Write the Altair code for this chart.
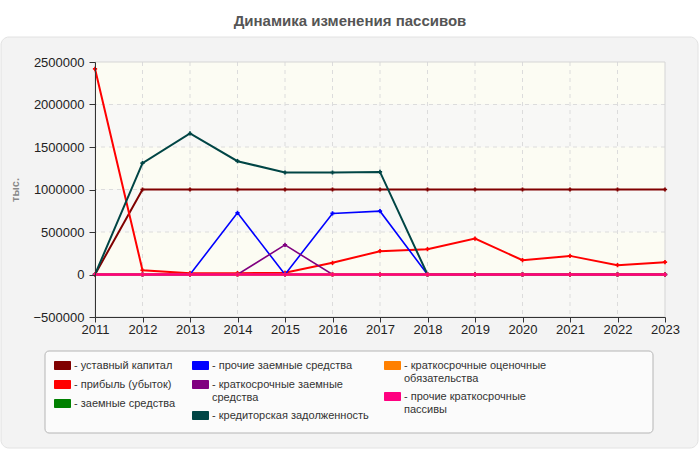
import altair as alt
import pandas as pd

years = [str(y) for y in range(2011, 2024)]

s_ustav = "уставный капитал"
s_profit = "прибыль (убыток)"
s_zaem = "заемные средства"
s_proch_zaem = "прочие заемные средства"
s_kr_zaem = "краткосрочные заемные средства"
s_kredit = "кредиторская задолженность"
s_ocen = "краткосрочные оценочные обязательства"
s_proch_kr = "прочие краткосрочные пассивы"

ustav = [0, 1000000, 1000000, 1000000, 1000000, 1000000, 1000000, 1000000, 1000000, 1000000, 1000000, 1000000, 1000000]
profit = [2420000, 50000, 15000, 15000, 20000, 138000, 274000, 298000, 423000, 168000, 219000, 109000, 145000]
zaem = [0, 0, 0, 0, 0, 0, 0, 0, 0, 0, 0, 0, 0]
proch_zaem = [0, 0, 0, 725000, 0, 718000, 745000, 0, 0, 0, 0, 0, 0]
kr_zaem = [0, 0, 0, 0, 348000, 0, 0, 0, 0, 0, 0, 0, 0]
kredit = [0, 1310000, 1659000, 1333000, 1200000, 1200000, 1207000, 0, 0, 0, 0, 0, 0]
ocen = [0, 0, 0, 0, 0, 0, 0, 0, 0, 0, 0, 0, 0]
proch_kr = [0, 0, 0, 0, 0, 0, 0, 0, 0, 0, 0, 0, 0]

columns = [
    [(s_ustav, ustav, "#800000", 2), (s_profit, profit, "#ff0000", 2), (s_zaem, zaem, "#008000", 2)],
    [(s_proch_zaem, proch_zaem, "#0000ff", 1.6), (s_kr_zaem, kr_zaem, "#800080", 1.6), (s_kredit, kredit, "#004545", 2)],
    [(s_ocen, ocen, "#ff8000", 2), (s_proch_kr, proch_kr, "#ff0080", 2.5)],
]
legend_x = [-41, 97, 289]
legend_y = 295

y_ticks = [-500000, 0, 500000, 1000000, 1500000, 2000000, 2500000]
band_lo = [-500000, 0, 500000, 1000000, 1500000, 2000000]
band_hi = [0, 500000, 1000000, 1500000, 2000000, 2500000]
band_fill = ["#f8f8f6", "#fcfcf3", "#f8f8f6", "#fcfcf3", "#f8f8f6", "#fcfcf3"]

NB = "\u00a0\u00a0\u00a0"
label_expr = (
    "datum.label == '" + s_kr_zaem + "' ? ['- краткосрочные заемные', '" + NB + "средства'] : "
    "datum.label == '" + s_ocen + "' ? ['- краткосрочные оценочные', '" + NB + "обязательства'] : "
    "datum.label == '" + s_proch_kr + "' ? ['- прочие краткосрочные', '" + NB + "пассивы'] : "
    "'- ' + datum.label"
)

y_scale = alt.Scale(domain=[-500000, 2500000], nice=False, zero=False)
x_scale = alt.Scale(type="point", padding=0)
x_axis = alt.Axis(title=None, labelAngle=0, labelAlign="center", labelBaseline="top", grid=False, zindex=1,
                  domainColor="#333333", tickColor="#333333", labelColor="#222222",
                  labelFontSize=13, tickSize=5, labelPadding=1)
y_axis = alt.Axis(values=y_ticks, format="d", title="тыс.", titleColor="#888888", titleFontSize=11,
                  titleFontWeight="bold", titlePadding=13, grid=False, zindex=1,
                  domainColor="#333333", tickColor="#333333",
                  labelColor="#222222", labelFontSize=13, tickSize=6, labelPadding=5)

x_enc = alt.X("year:O", scale=x_scale, axis=x_axis)
y_enc = alt.Y("value:Q", scale=y_scale, axis=y_axis)

dummy = pd.DataFrame({"a": [0]})
panel = alt.Chart(dummy).mark_rect(fill="#f3f3f3", stroke="#e2e2e2", cornerRadius=8).encode(
    x=alt.value(-94), x2=alt.value(603), y=alt.value(-25), y2=alt.value(386)
)
legend_box = alt.Chart(dummy).mark_rect(fill="#fbfbfb", stroke="#b5b5b5", cornerRadius=4).encode(
    x=alt.value(-50), x2=alt.value(558), y=alt.value(289), y2=alt.value(371)
)
bands_df = pd.DataFrame({"value": band_lo, "hi": band_hi, "fill": band_fill})
bands = alt.Chart(bands_df).mark_rect().encode(
    x=alt.value(0), x2=alt.value(570),
    y=y_enc,
    y2="hi:Q",
    fill=alt.Fill("fill:N", scale=None),
)
vgrid = alt.Chart(pd.DataFrame({"year": years[1:-1]})).mark_rule(
    color="#dcdcdc", strokeDash=[4, 4], strokeWidth=1
).encode(x=x_enc)
hgrid = alt.Chart(pd.DataFrame({"value": y_ticks[1:-1]})).mark_rule(
    color="#dcdcdc", strokeDash=[4, 4], strokeWidth=1
).encode(y=y_enc)
frame = alt.Chart(dummy).mark_rect(fill="#ffffff", fillOpacity=0, stroke="#d5d5d5").encode(
    x=alt.value(0), x2=alt.value(570), y=alt.value(0), y2=alt.value(255)
)

groups = []
for ci, col in enumerate(columns):
    rows = []
    for name, vals, _c, w in col:
        for yr, v in zip(years, vals):
            rows.append({"year": yr, "value": v, "series": name, "w": w})
    df = pd.DataFrame(rows)
    dom = [n for n, _v, _c, _w in col]
    rng = [c for _n, _v, c, _w in col]
    legend = alt.Legend(
        title=None, orient="none", legendX=legend_x[ci], legendY=legend_y,
        symbolType="M-1,-0.5H1V0.5H-1Z", symbolSize=256, symbolStrokeWidth=1,
        symbolStrokeColor="#999999",
        labelFontSize=11, labelColor="#333333", labelOffset=3, labelExpr=label_expr,
        rowPadding=4, padding=0, labelLimit=300,
    )
    color = alt.Color("series:N", scale=alt.Scale(domain=dom, range=rng), legend=legend, sort=dom)
    base = alt.Chart(df).encode(x=x_enc, y=y_enc, color=color, detail="series:N")
    line = base.mark_line().encode(strokeWidth=alt.StrokeWidth("w:Q", scale=None, legend=None))
    pts = base.mark_point(shape="cross", filled=True, size=18, opacity=1)
    groups.append(alt.layer(line, pts))

chart = alt.layer(panel, legend_box, bands, vgrid, hgrid, frame, *groups).resolve_scale(
    color="independent"
).properties(
    width=570, height=255,
    title=alt.TitleParams("Динамика изменения пассивов", fontSize=15, fontWeight="bold", color="#555555",
                          anchor="middle", dx=-30, dy=18, offset=11, baseline="bottom"),
    autosize=alt.AutoSizeParams(type="none"),
    padding={"left": 95, "top": 62, "right": 35, "bottom": 133},
).configure(font="Liberation Sans", background="#ffffff").configure_view(stroke=None)

chart.save("out.html", embed_options={"renderer": "svg", "actions": False})
